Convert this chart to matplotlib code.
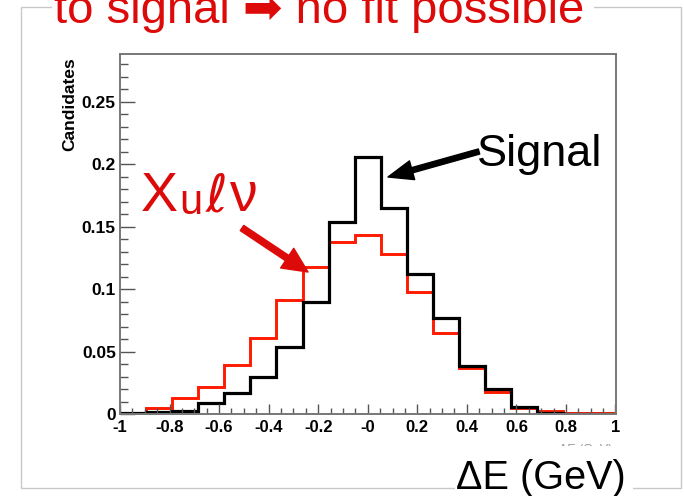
import numpy as np
import matplotlib
matplotlib.use("Agg")
import matplotlib.pyplot as plt
from matplotlib.patches import Rectangle, FancyArrowPatch

plt.rcParams['font.family'] = ['Liberation Sans', 'DejaVu Sans']

# DeltaE histograms, 19 bins between -1 and 1
signal = [0.0005, 0.0015, 0.0025, 0.009, 0.0166, 0.030, 0.0535, 0.090, 0.154, 0.206,
          0.165, 0.1125, 0.077, 0.0383, 0.020, 0.0055, 0.0007, 0.0003, 0.0004]
xulnu = [0.001, 0.005, 0.013, 0.0215, 0.039, 0.061, 0.091, 0.1175, 0.138, 0.143,
         0.128, 0.0975, 0.0647, 0.0367, 0.0175, 0.005, 0.0025, 0.0012, 0.0008]
xtick_vals = [-1, -0.8, -0.6, -0.4, -0.2, 0, 0.2, 0.4, 0.6, 0.8, 1]
xtick_labels = ["-1", "-0.8", "-0.6", "-0.4", "-0.2", "-0", "0.2", "0.4", "0.6", "0.8", "1"]
ytick_vals = [0, 0.05, 0.1, 0.15, 0.2, 0.25]
ytick_labels = ["0", "0.05", "0.1", "0.15", "0.2", "0.25"]

W, H = 684, 496
def px(x, y):
    # pixel position (from top left) -> figure fraction
    return x / W, 1 - y / H

fig = plt.figure(figsize=(W / 100, H / 100), dpi=100)
ax = fig.add_axes([120 / W, 1 - 414 / H, (615.5 - 120) / W, (414 - 53.5) / H])

edges = np.linspace(-1, 1, len(signal) + 1)
ax.stairs(xulnu, edges, color='#ff1a00', lw=2.1, baseline=None)
ax.stairs(signal, edges, color='black', lw=2.3, baseline=None)

ax.set_xlim(-1, 1)
ax.set_ylim(0, 0.2888)
ax.set_xticks(xtick_vals)
ax.set_xticklabels(xtick_labels, fontsize=12, fontweight='bold')
ax.set_xticks(np.arange(-1, 1.001, 0.05), minor=True)
ax.set_yticks(ytick_vals)
ax.set_yticklabels(ytick_labels, fontsize=12.5, fontweight='bold')
ax.set_yticks(np.arange(0, 0.285, 0.01), minor=True)
ax.tick_params(axis='x', which='major', direction='in', length=7.5, width=1, color='#555555', pad=4)
ax.tick_params(axis='x', which='minor', direction='in', length=4, width=1, color='#555555')
ax.tick_params(axis='y', which='major', direction='in', length=11, width=1, color='#555555', pad=3)
ax.tick_params(axis='y', which='minor', direction='in', length=5.5, width=1, color='#555555')
for s in ax.spines.values():
    s.set_color('#777777')
    s.set_linewidth(1.4)

x, y = px(70, 104)
fig.text(x, y, "Candidates", rotation=90, ha='center', va='center', fontsize=12.5, fontweight='bold')

# slide frame
fig.add_artist(Rectangle(px(20.5, 488), 660 / W, 481.5 / H, transform=fig.transFigure,
                         fill=False, edgecolor='#c8c8c8', lw=1.0, zorder=1))

# faint ROOT axis title, mostly covered by the slide label
x, y = px(612, 453)
fig.text(x, y, "ΔE (GeV)", ha='right', va='baseline', fontsize=9, color='#999999', zorder=2)
fig.add_artist(Rectangle(px(455, 496), 178 / W, 50 / H, transform=fig.transFigure,
                         facecolor='white', edgecolor='none', zorder=3))
fig.add_artist(Rectangle(px(52, 14), 542 / W, 14 / H, transform=fig.transFigure,
                         facecolor='white', edgecolor='none', zorder=3))

x, y = px(456, 489)
fig.text(x, y, "ΔE (GeV)", ha='left', va='baseline', fontsize=28.5, color='black', zorder=4)

x, y = px(54, 23)
fig.text(x, y, "to signal ➡ no fit possible", ha='left', va='baseline', fontsize=34,
         color='#dd0a0a', zorder=4)

# Signal label and arrow
x, y = px(477, 166)
fig.text(x, y, "Signal", ha='left', va='baseline', fontsize=32.5, color='black', zorder=4)
fig.add_artist(FancyArrowPatch(px(479, 151.5), px(388, 177), transform=fig.transFigure,
                               arrowstyle='simple,tail_width=0.38,head_width=1.4,head_length=1.8',
                               mutation_scale=10, color='black', shrinkA=0, shrinkB=0, zorder=5))

# Xu l nu label and arrow
red = '#dd0a0a'
x, y = px(141, 211)
fig.text(x, y, "X", ha='left', va='baseline', fontsize=40, color=red, zorder=4)
x, y = px(179, 214)
fig.text(x, y, "u", ha='left', va='baseline', fontsize=30, color=red, zorder=4)
x, y = px(206, 211)
fig.text(x, y, "ℓ", ha='left', va='baseline', fontsize=38, color=red, zorder=4,
         family='DejaVu Sans')
x, y = px(229, 211)
fig.text(x, y, "ν", ha='left', va='baseline', fontsize=40, color=red, zorder=4)
fig.add_artist(FancyArrowPatch(px(242, 228), px(308, 272), transform=fig.transFigure,
                               arrowstyle='simple,tail_width=0.45,head_width=1.7,head_length=1.8',
                               mutation_scale=10, color=red, shrinkA=0, shrinkB=0, zorder=5))

fig.savefig("out.png", dpi=100)
